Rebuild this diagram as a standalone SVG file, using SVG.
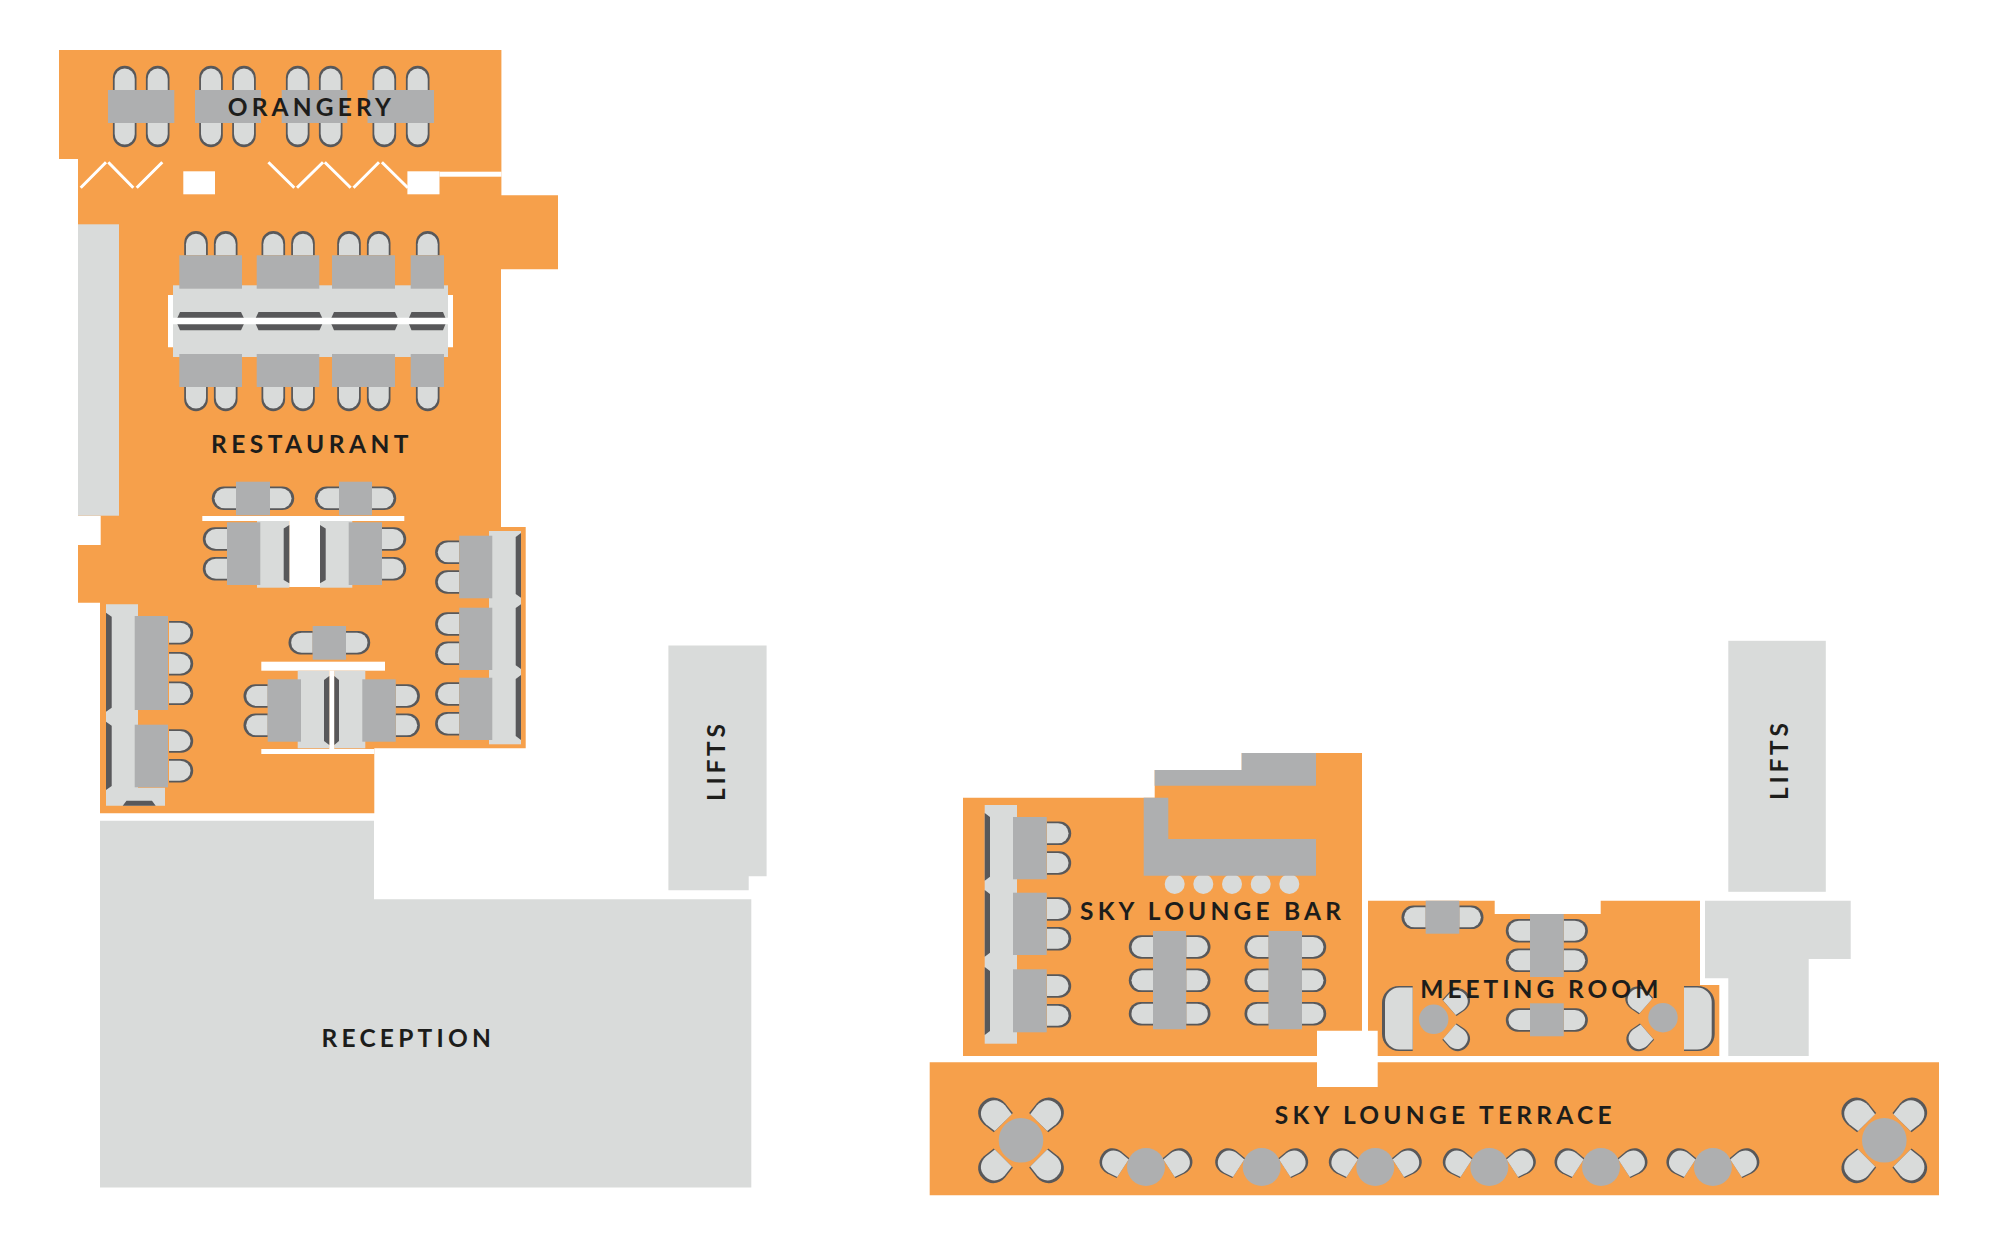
<svg xmlns="http://www.w3.org/2000/svg" width="2000" height="1248" viewBox="0 0 2000 1248">
<style>
.o{fill:#f6a04b}.l{fill:#d9dbda}.m{fill:#aeafb0}.d{fill:#58585a}.w{fill:#fff}
.z{fill:none;stroke:#fff;stroke-width:3}
.t{font-family:"Lato","Liberation Sans",sans-serif;font-weight:700;font-size:24.5px;fill:#1d1d1b}
</style>
<defs>
<path id="k" d="M0,-11.8H12.4A11.8 11.8 0 0 1 12.4,11.8H0Z"/>
<path id="q" d="M0,-13.5L12.5,-15C21,-15.5 29,-10.5 29,0C29,10.5 21,15.5 12.5,15L0,13.5Z"/>
<g id="c"><use href="#k" class="d"/><use href="#k" class="l" transform="scale(.89 .85)"/></g>
<g id="b"><use href="#q" class="d"/><use href="#q" class="l" transform="scale(.89)"/></g>
<g id="bigTable"><use href="#b" transform="rotate(45) translate(25,0)"/><use href="#b" transform="rotate(135) translate(25,0)"/><use href="#b" transform="rotate(225) translate(25,0)"/><use href="#b" transform="rotate(315) translate(25,0)"/><circle class="m" r="22.3"/></g>
<g id="smallTable"><use href="#b" transform="translate(-23,1.2) rotate(213) scale(.87)"/><use href="#b" transform="translate(23,1.2) rotate(-33) scale(.87)"/><circle class="m" r="19"/></g>
</defs>

<g id="reception-lifts">
<path class="l" d="M100,820.7H374V899.2H751.3V1187.5H100Z"/>
<path class="l" d="M668.4,645.4H766.6V876.3H748.7V890.3H668.4Z"/>
<text class="t" x="321.4" y="1047" textLength="169.6" lengthAdjust="spacing">RECEPTION</text>
<text class="t" transform="translate(724.5,801) rotate(-90)" textLength="77" lengthAdjust="spacing">LIFTS</text>
</g>

<g id="restaurant-orangery">
<path class="o" d="M59,50H501.4V195.3H558V269.3H501V527H525.7V748.3H374.3V813.3H100V602.7H78V545H100.7V515.7H78V159H59Z"/>
<rect class="l" x="78" y="224.3" width="41" height="291.4"/>
<rect class="w" x="183.3" y="171.3" width="31.7" height="23"/>
<rect class="w" x="407.4" y="171.3" width="32.1" height="23"/>
<rect class="w" x="439.5" y="171.7" width="62" height="5"/>
<path class="z" d="M80.7,187.7L106,162.3M108.3,162.3L133.3,187.7M136.7,187.7L162.3,162.3M268.4,162.3L294.3,187.7M297,187.7L323,162.3M324.8,162.3L350.7,187.7M353.5,187.7L379,162.3M381.9,162.3L407.8,187.7"/>
</g>

<g id="orangery-tables">
<use href="#c" transform="translate(124.7,90) rotate(-90)"/><use href="#c" transform="translate(157.7,90) rotate(-90)"/><use href="#c" transform="translate(211,90) rotate(-90)"/><use href="#c" transform="translate(244,90) rotate(-90)"/><use href="#c" transform="translate(297.7,90) rotate(-90)"/><use href="#c" transform="translate(330.7,90) rotate(-90)"/><use href="#c" transform="translate(384.3,90) rotate(-90)"/><use href="#c" transform="translate(417.7,90) rotate(-90)"/>
<use href="#c" transform="translate(124.7,123) rotate(90)"/><use href="#c" transform="translate(157.7,123) rotate(90)"/><use href="#c" transform="translate(211,123) rotate(90)"/><use href="#c" transform="translate(244,123) rotate(90)"/><use href="#c" transform="translate(297.7,123) rotate(90)"/><use href="#c" transform="translate(330.7,123) rotate(90)"/><use href="#c" transform="translate(384.3,123) rotate(90)"/><use href="#c" transform="translate(417.7,123) rotate(90)"/>
<rect class="m" x="108" y="90" width="66.3" height="33"/><rect class="m" x="195" y="90" width="66" height="33"/><rect class="m" x="281.7" y="90" width="65.6" height="33"/><rect class="m" x="367.5" y="90" width="66.5" height="33"/>
<text class="t" x="227.7" y="115.5" textLength="163.3" lengthAdjust="spacing">ORANGERY</text>
</g>

<g id="restaurant-long-table">
<rect class="l" x="173" y="285.3" width="275" height="71.7"/>
<path class="d" d="M176,321L180,312H241L245.3,321L241,330.3H180ZM254.3,321L258.5,312H319.5L323.7,321L319.5,330.3H258.5ZM330,321L334,312H395L399,321L395,330.3H334ZM407.7,321L411.5,312H443L446.7,321L443,330.3H411.5Z"/>
<path class="w" d="M168,295H173V317.7H448V295H453V347.3H448V324.3H173V347.3H168Z"/>
<use href="#c" transform="translate(196,255.3) rotate(-90)"/><use href="#c" transform="translate(225.7,255.3) rotate(-90)"/><use href="#c" transform="translate(273.3,255.3) rotate(-90)"/><use href="#c" transform="translate(303,255.3) rotate(-90)"/><use href="#c" transform="translate(349,255.3) rotate(-90)"/><use href="#c" transform="translate(378.7,255.3) rotate(-90)"/><use href="#c" transform="translate(427.7,255.3) rotate(-90)"/>
<use href="#c" transform="translate(196,387) rotate(90)"/><use href="#c" transform="translate(225.7,387) rotate(90)"/><use href="#c" transform="translate(273.3,387) rotate(90)"/><use href="#c" transform="translate(303,387) rotate(90)"/><use href="#c" transform="translate(349,387) rotate(90)"/><use href="#c" transform="translate(378.7,387) rotate(90)"/><use href="#c" transform="translate(427.7,387) rotate(90)"/>
<rect class="m" x="179.3" y="255.3" width="62.7" height="33.4"/><rect class="m" x="256.7" y="255.3" width="62.6" height="33.4"/><rect class="m" x="332" y="255.3" width="63" height="33.4"/><rect class="m" x="410.7" y="255.3" width="33.3" height="33.4"/>
<rect class="m" x="179.3" y="354" width="62.7" height="33"/><rect class="m" x="256.7" y="354" width="62.6" height="33"/><rect class="m" x="332" y="354" width="63" height="33"/><rect class="m" x="410.7" y="354" width="33.3" height="33"/>
<text class="t" x="211" y="453.3" textLength="197.5" lengthAdjust="spacing">RESTAURANT</text>
</g>

<g id="restaurant-centre-tables">
<use href="#c" transform="translate(236,498.3) rotate(180)"/><use href="#c" transform="translate(270,498.3)"/><use href="#c" transform="translate(339,498.3) rotate(180)"/><use href="#c" transform="translate(372,498.3)"/>
<rect class="m" x="236" y="481.7" width="34" height="33.6"/><rect class="m" x="339" y="481.7" width="33" height="33.6"/>
<rect class="w" x="202.3" y="516" width="202" height="5"/>
<rect class="l" x="257" y="521" width="32.3" height="66.7"/><rect class="l" x="320" y="521" width="32.3" height="66.7"/>
<rect class="w" x="289.3" y="521" width="30.7" height="66"/>
<path class="d" d="M289.3,525V583.3L283.7,580V528.5ZM320,525V583.3L325.7,580V528.5Z"/>
<use href="#c" transform="translate(227,539) rotate(180)"/><use href="#c" transform="translate(227,568.7) rotate(180)"/><use href="#c" transform="translate(382,539)"/><use href="#c" transform="translate(382,568.7)"/>
<rect class="m" x="227" y="522.3" width="33.3" height="62.7"/><rect class="m" x="348.7" y="522.3" width="33.3" height="62.7"/>
</g>

<g id="restaurant-right-tables">
<rect class="l" x="489" y="531" width="32" height="213.3"/>
<path class="d" d="M521,533V597.7L515.7,594V537ZM521,604.3V669L515.7,665.3V608ZM521,675V740L515.7,736V679Z"/>
<use href="#c" transform="translate(459.3,552.3) rotate(180)"/><use href="#c" transform="translate(459.3,582) rotate(180)"/><use href="#c" transform="translate(459.3,624) rotate(180)"/><use href="#c" transform="translate(459.3,653.3) rotate(180)"/><use href="#c" transform="translate(459.3,694) rotate(180)"/><use href="#c" transform="translate(459.3,723.7) rotate(180)"/>
<rect class="m" x="459.3" y="535.7" width="33" height="62.6"/><rect class="m" x="459.3" y="607.7" width="33" height="62.3"/><rect class="m" x="459.3" y="677.7" width="33" height="62.3"/>
</g>

<g id="restaurant-left-tables">
<path class="l" d="M106,604.3H138V787.7H165V805.7H106Z"/>
<path class="d" d="M106,612.7L111.7,616.7V707.7L106,711.7ZM106,721.7L111.7,725.7V786L106,790ZM122.7,805.7L126.5,800.7H152L155.7,805.7Z"/>
<use href="#c" transform="translate(169,632.7)"/><use href="#c" transform="translate(169,663.7)"/><use href="#c" transform="translate(169,693.3)"/><use href="#c" transform="translate(169,741)"/><use href="#c" transform="translate(169,770.7)"/>
<rect class="m" x="134.7" y="616" width="33.3" height="94"/><rect class="m" x="134.7" y="724.7" width="33.3" height="62.6"/>
</g>

<g id="restaurant-lower-tables">
<use href="#c" transform="translate(312.7,642.7) rotate(180)"/><use href="#c" transform="translate(346,642.7)"/>
<rect class="m" x="312.7" y="626" width="33.3" height="33.7"/>
<rect class="w" x="261.3" y="661.7" width="123.7" height="9"/>
<rect class="l" x="297.7" y="670.7" width="31.6" height="77.6"/><rect class="l" x="334.3" y="670.7" width="31" height="77.6"/>
<rect class="w" x="329.3" y="670.7" width="5" height="78.3"/>
<path class="d" d="M329.3,676V745L324,741V680ZM334.3,676V745L339,741V680Z"/>
<rect class="w" x="261.3" y="749" width="113" height="5"/>
<use href="#c" transform="translate(267.7,696) rotate(180)"/><use href="#c" transform="translate(267.7,725.3) rotate(180)"/><use href="#c" transform="translate(395.7,696)"/><use href="#c" transform="translate(395.7,725.3)"/>
<rect class="m" x="267.7" y="679.3" width="33.3" height="62.4"/><rect class="m" x="362.3" y="679.3" width="33.4" height="62.4"/>
</g>

<g id="right-lifts">
<rect class="l" x="1728.3" y="640.8" width="97.5" height="251"/>
<path class="l" d="M1705,900.7H1850.7V959H1808.7V1056H1728.3V978.3H1705Z"/>
<text class="t" transform="translate(1787.5,800) rotate(-90)" textLength="77" lengthAdjust="spacing">LIFTS</text>
</g>

<g id="sky-lounge-bar">
<path class="o" d="M963,797.7H1154.7V770H1241.7V753H1362V1030.7H1317V1056H963Z"/>
<circle class="l" cx="1174.7" cy="884" r="10"/><circle class="l" cx="1203.3" cy="884" r="10"/><circle class="l" cx="1232" cy="884" r="10"/><circle class="l" cx="1260.7" cy="884" r="10"/><circle class="l" cx="1289.3" cy="884" r="10"/>
<path class="m" d="M1154.7,770H1241.7V753H1316V785.7H1154.7Z"/>
<path class="m" d="M1143.7,797.7H1168.3V839H1316V875.7H1143.7Z"/>
<rect class="l" x="984.7" y="805" width="32.3" height="238.7"/>
<path class="d" d="M984.7,813L990,817V876.7L984.7,880.7ZM984.7,890L990,894V952.7L984.7,956.7ZM984.7,967L990,971V1031L984.7,1035Z"/>
<use href="#c" transform="translate(1047,833.3)"/><use href="#c" transform="translate(1047,863)"/><use href="#c" transform="translate(1047,909)"/><use href="#c" transform="translate(1047,938.7)"/><use href="#c" transform="translate(1047,986)"/><use href="#c" transform="translate(1047,1015.7)"/>
<rect class="m" x="1013" y="817" width="33.7" height="62.3"/><rect class="m" x="1013" y="892.7" width="33.7" height="62.3"/><rect class="m" x="1013" y="969.3" width="33.7" height="63"/>
<use href="#c" transform="translate(1153,947) rotate(180)"/><use href="#c" transform="translate(1153,980.3) rotate(180)"/><use href="#c" transform="translate(1153,1013.7) rotate(180)"/><use href="#c" transform="translate(1186.3,947)"/><use href="#c" transform="translate(1186.3,980.3)"/><use href="#c" transform="translate(1186.3,1013.7)"/>
<use href="#c" transform="translate(1268.7,947) rotate(180)"/><use href="#c" transform="translate(1268.7,980.3) rotate(180)"/><use href="#c" transform="translate(1268.7,1013.7) rotate(180)"/><use href="#c" transform="translate(1302,947)"/><use href="#c" transform="translate(1302,980.3)"/><use href="#c" transform="translate(1302,1013.7)"/>
<rect class="m" x="1153" y="931" width="33" height="98.3"/><rect class="m" x="1268.7" y="931" width="33.3" height="98.3"/>
<text class="t" x="1080" y="920" textLength="261" lengthAdjust="spacing">SKY LOUNGE BAR</text>
</g>

<g id="meeting-room">
<path class="o" d="M1368,900.7H1494.7V914H1600.7V900.7H1700V985H1719.3V1056H1377.7V1030.7H1368Z"/>
<use href="#c" transform="translate(1425.7,917.3) rotate(180)"/><use href="#c" transform="translate(1459.3,917.3)"/>
<rect class="m" x="1425.7" y="900.7" width="33.6" height="33"/>
<use href="#c" transform="translate(1530,930.7) rotate(180)"/><use href="#c" transform="translate(1530,960.3) rotate(180)"/><use href="#c" transform="translate(1563.7,930.7)"/><use href="#c" transform="translate(1563.7,960.3)"/>
<rect class="m" x="1530" y="914" width="33.7" height="63"/>
<use href="#c" transform="translate(1530,1020) rotate(180)"/><use href="#c" transform="translate(1563.7,1020)"/>
<rect class="m" x="1530" y="1003.3" width="33.7" height="33"/>
<path class="d" d="M1412.7,986H1399A17 17 0 0 0 1382,1003V1034A17 17 0 0 0 1399,1051H1412.7Z"/>
<path class="l" d="M1412.7,987.6H1399.5A14.5 14.5 0 0 0 1385,1002.1V1034.9A14.5 14.5 0 0 0 1399.5,1049.4H1412.7Z"/>
<path class="d" d="M1684,986H1697.7A17 17 0 0 1 1714.7,1003V1034A17 17 0 0 1 1697.7,1051H1684Z"/>
<path class="l" d="M1684,987.6H1697.2A14.5 14.5 0 0 1 1711.7,1002.1V1034.9A14.5 14.5 0 0 1 1697.2,1049.4H1684Z"/>
<use href="#b" transform="translate(1449.4,1007.8) rotate(-41) scale(.8)"/><use href="#b" transform="translate(1449.4,1031.6) rotate(41) scale(.8)"/>
<circle class="m" cx="1433.7" cy="1019.3" r="14.7"/>
<use href="#b" transform="translate(1646,1006) rotate(221) scale(.8)"/><use href="#b" transform="translate(1647,1031.7) rotate(139) scale(.8)"/>
<circle class="m" cx="1663" cy="1017.7" r="14.7"/>
<text class="t" x="1420.3" y="998.3" textLength="238" lengthAdjust="spacing">MEETING ROOM</text>
</g>

<g id="sky-lounge-terrace">
<path class="o" d="M929.7,1062.3H1317V1087H1377.7V1062.3H1939V1195.3H929.7Z"/>
<use href="#bigTable" x="1021" y="1140.3"/><use href="#bigTable" x="1884.3" y="1140.3"/>
<use href="#smallTable" x="1146" y="1167"/><use href="#smallTable" x="1261.7" y="1167"/><use href="#smallTable" x="1375.3" y="1167"/><use href="#smallTable" x="1489.3" y="1167"/><use href="#smallTable" x="1601" y="1167"/><use href="#smallTable" x="1712.9" y="1167"/>
<text class="t" x="1274.7" y="1124" textLength="337" lengthAdjust="spacing">SKY LOUNGE TERRACE</text>
</g>
</svg>
